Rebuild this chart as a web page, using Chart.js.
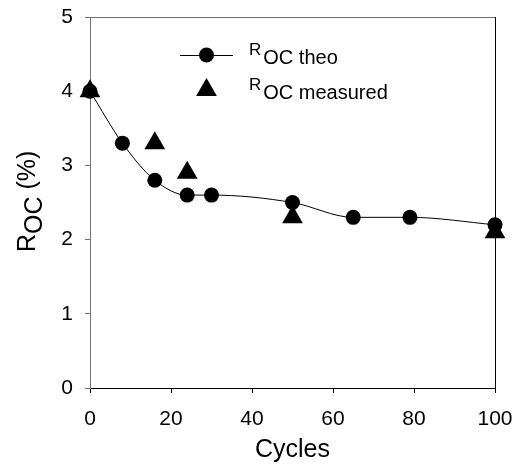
<!DOCTYPE html>
<html>
<head>
<meta charset="utf-8">
<script src="https://cdn.jsdelivr.net/npm/chart.js@4/dist/chart.umd.min.js"></script>
<style>
html,body{margin:0;padding:0;background:#fff;}
#wrap{width:518px;height:468px;position:relative;}
</style>
</head>
<body>
<div id="wrap"><canvas id="c" width="518" height="468"></canvas></div>
<script>
const theoCycles = [0, 8, 16, 24, 30, 50, 65, 79, 100];
const theoValues = [4.0, 3.3, 2.8, 2.6, 2.6, 2.5, 2.3, 2.3, 2.2];
const measCycles = [0, 16, 24, 50, 100];
const measValues = [4.0, 3.3, 2.9, 2.3, 2.1];
const xTicks = [0, 20, 40, 60, 80, 100];
const yTicks = [0, 1, 2, 3, 4, 5];
const xTitle = 'Cycles';
const yTitleMain = 'R';
const yTitleSub = 'OC';
const yTitleRest = ' (%)';
const legendLabels = [['R', 'OC', ' theo'], ['R', 'OC', ' measured']];

const FONT = 'Arial, "Liberation Sans", sans-serif';
const PLOT = {left: 90, right: 495, top: 17, bottom: 388};

const textPlugin = {
  id: 'textPlugin',
  afterDraw(chart) {
    const ctx = chart.ctx;
    const ca = chart.chartArea;
    ctx.save();
    ctx.lineWidth = 1;
    ctx.strokeStyle = '#707070';
    ctx.beginPath();
    ctx.moveTo(ca.left, ca.top + 0.5);
    ctx.lineTo(ca.right, ca.top + 0.5);
    ctx.stroke();
    ctx.strokeStyle = '#000';
    ctx.beginPath();
    ctx.moveTo(ca.right + 0.5, ca.top);
    ctx.lineTo(ca.right + 0.5, ca.bottom);
    ctx.stroke();

    ctx.fillStyle = '#000';
    ctx.font = '25px ' + FONT;
    ctx.textAlign = 'center';
    ctx.textBaseline = 'alphabetic';
    ctx.fillText(xTitle, (ca.left + ca.right) / 2, 457);

    ctx.save();
    ctx.translate(35, 252);
    ctx.rotate(-Math.PI / 2);
    ctx.textAlign = 'left';
    ctx.font = '25px ' + FONT;
    let x = 0;
    ctx.fillText(yTitleMain, x, 0);
    x += ctx.measureText(yTitleMain).width;
    ctx.fillText(yTitleSub, x, 7);
    x += ctx.measureText(yTitleSub).width;
    ctx.fillText(yTitleRest, x, 0);
    ctx.restore();

    const rows = [{y: 55, type: 'circle'}, {y: 90, type: 'triangle'}];
    rows.forEach((r, i) => {
      if (r.type === 'circle') {
        ctx.strokeStyle = '#000';
        ctx.lineWidth = 1;
        ctx.beginPath();
        ctx.moveTo(180, r.y + 0.5);
        ctx.lineTo(233, r.y + 0.5);
        ctx.stroke();
        ctx.beginPath();
        ctx.arc(206.5, r.y, 7.5, 0, Math.PI * 2);
        ctx.fill();
      } else {
        const rad = 12;
        ctx.beginPath();
        for (let k = 0; k < 3; k++) {
          const a = k * 2 * Math.PI / 3;
          const px = 206.5 + Math.sin(a) * rad;
          const py = r.y - Math.cos(a) * rad;
          if (k === 0) ctx.moveTo(px, py); else ctx.lineTo(px, py);
        }
        ctx.closePath();
        ctx.fill();
      }
      const lab = legendLabels[i];
      ctx.textAlign = 'left';
      ctx.font = '17px ' + FONT;
      let lx = 249;
      ctx.fillText(lab[0], lx, r.y);
      lx += ctx.measureText(lab[0]).width + 2;
      ctx.font = '20px ' + FONT;
      ctx.fillText(lab[1] + lab[2], lx, r.y + 9);
    });
    ctx.restore();
  }
};

new Chart(document.getElementById('c'), {
  type: 'scatter',
  data: {
    datasets: [
      {
        label: 'ROC measured',
        data: measCycles.map((c, i) => ({x: c, y: measValues[i]})),
        showLine: false,
        pointStyle: 'triangle',
        pointRadius: 12,
        pointHoverRadius: 12,
        backgroundColor: '#000',
        borderColor: '#000',
        borderWidth: 0,
        clip: false,
        order: 0
      },
      {
        label: 'ROC theo',
        data: theoCycles.map((c, i) => ({x: c, y: theoValues[i]})),
        showLine: true,
        cubicInterpolationMode: 'monotone',
        borderColor: '#000',
        borderWidth: 1,
        pointStyle: 'circle',
        pointRadius: 7.5,
        pointHoverRadius: 7.5,
        pointBackgroundColor: '#000',
        pointBorderWidth: 0,
        clip: false,
        order: 1
      }
    ]
  },
  options: {
    responsive: false,
    animation: false,
    events: [],
    layout: {padding: {left: 0, top: PLOT.top, right: 518 - PLOT.right, bottom: 0}},
    plugins: {legend: {display: false}, tooltip: {enabled: false}},
    scales: {
      x: {
        type: 'linear',
        min: 0, max: 100,
        afterBuildTicks(s) { s.ticks = xTicks.map(v => ({value: v})); },
        afterFit(s) { s.height = 468 - PLOT.bottom; s.paddingLeft = 0; s.paddingRight = 0; },
        ticks: {color: '#000', font: {size: 21, family: FONT}, padding: 14, maxRotation: 0},
        grid: {display: true, drawOnChartArea: false, drawTicks: true, tickLength: 5, color: '#000'},
        border: {display: true, color: '#000', width: 1},
        title: {display: false}
      },
      y: {
        type: 'linear',
        min: 0, max: 5,
        afterBuildTicks(s) { s.ticks = yTicks.map(v => ({value: v})); },
        afterFit(s) { s.width = PLOT.left; s.paddingTop = 0; s.paddingBottom = 0; },
        ticks: {color: '#000', font: {size: 21, family: FONT}, padding: 12},
        grid: {display: true, drawOnChartArea: false, drawTicks: true, tickLength: 5, color: '#707070'},
        border: {display: true, color: '#707070', width: 1},
        title: {display: false}
      }
    }
  },
  plugins: [textPlugin]
});
</script>
</body>
</html>
